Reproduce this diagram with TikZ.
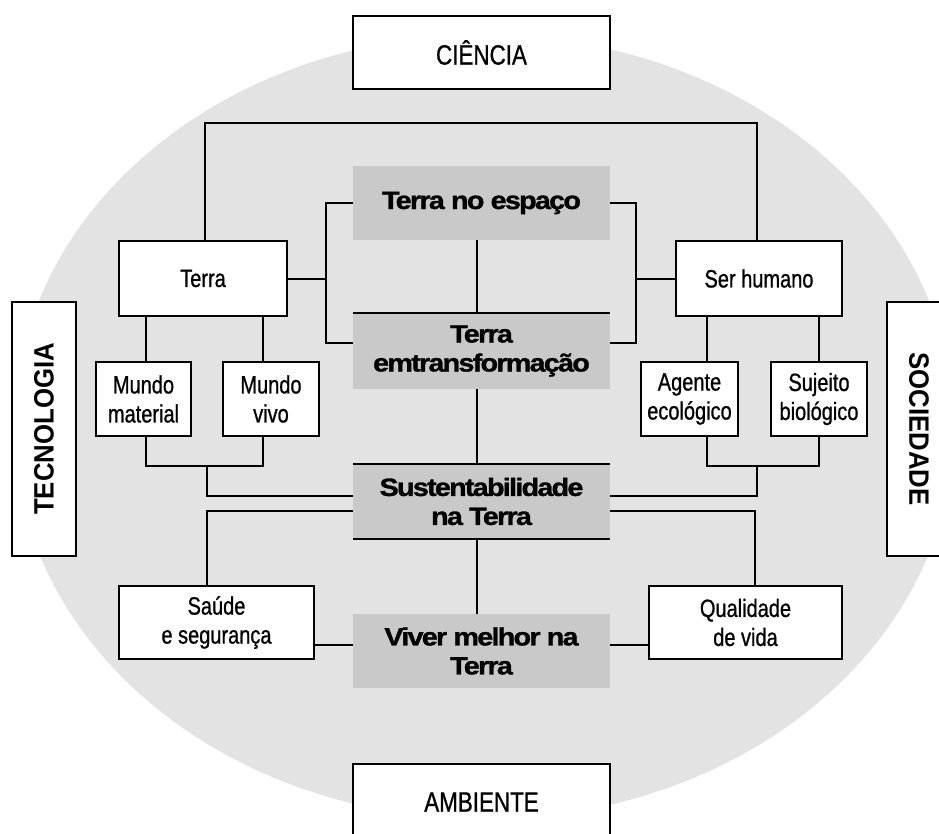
\documentclass[tikz,border=0pt]{standalone}
\usepackage{fontspec}
\setmainfont{Liberation Sans}
\newfontfamily\condfont{Liberation Sans}[FakeStretch=0.8,FakeBold=0.8]
\newfontfamily\boldcond{Liberation Sans}[FakeStretch=0.92]
\newfontfamily\tightbold{Liberation Sans}[FakeStretch=1.15,LetterSpace=-7,FakeBold=1.2]
\definecolor{ovalgray}{gray}{0.89}
\definecolor{boxgray}{gray}{0.79}

\begin{document}
\begin{tikzpicture}[x=1pt,y=-1pt,
  conn/.style={line width=2pt},
  rule/.style={line width=2.4pt},
  wbox/.style={draw, line width=2pt, fill=white, inner sep=0pt, align=center,
    font=\condfont\fontsize{25}{29}\selectfont},
  bigbox/.style={wbox, minimum width=257pt, font=\condfont\fontsize{28}{32}\selectfont},
  sidebox/.style={wbox, minimum width=254pt, minimum height=64pt,
    font=\boldcond\bfseries\fontsize{28}{32}\selectfont},
  gbox/.style={fill=boxgray, inner sep=0pt, align=center, minimum width=257pt,
    font=\tightbold\bfseries\fontsize{25}{29}\selectfont}
]
\useasboundingbox (0,0) rectangle (939,834);
\clip (0,0) rectangle (939,834);

% background oval
\fill[ovalgray] (484,427) ellipse [x radius=470pt, y radius=392pt];

% outer labels
\node[bigbox, minimum height=73pt] (cien) at (481.5,52.5) {CIÊNCIA};
\node[bigbox, minimum height=76pt] (amb) at (481.5,802) {AMBIENTE};
\node[sidebox, rotate=90] (tec) at (44,429) {TECNOLOGIA};
\node[sidebox, rotate=-90] (soc) at (919,429) {SOCIEDADE};

% central column
\node[gbox, minimum height=74pt] (esp) at (481.5,203) {Terra no espaço};
\node[gbox, minimum height=76pt] (transf) at (481.5,351) {Terra\\emtransformação};
\node[gbox, minimum height=75pt] (sust) at (481.5,501.5) {Sustentabilidade\\na Terra};
\node[gbox, minimum height=74pt] (viver) at (481.5,651) {Viver melhor na\\Terra};

% side boxes
\node[wbox, minimum width=168pt, minimum height=75pt] (terra) at (203,278.5) {Terra};
\node[wbox, minimum width=166pt, minimum height=75pt] (ser) at (759,278.5) {Ser humano};
\node[wbox, minimum width=95pt, minimum height=74pt] (mmat) at (143.5,399) {Mundo\\material};
\node[wbox, minimum width=96pt, minimum height=74pt] (mviv) at (271,399) {Mundo\\vivo};
\node[wbox, minimum width=97pt, minimum height=74pt] (agen) at (689.5,399) {Agente\\ecológico};
\node[wbox, minimum width=96pt, minimum height=74pt] (suj) at (819,399) {Sujeito\\biológico};
\node[wbox, minimum width=195pt, minimum height=73pt] (saude) at (216.5,622.5) {Saúde\\e segurança};
\node[wbox, minimum width=193pt, minimum height=73pt] (qual) at (745.5,622.5) {Qualidade\\de vida};

% rails of the connectors
\coordinate (xC) at (477,0);
\coordinate (xT) at (205,0);
\coordinate (xS) at (757,0);
\coordinate (xL1) at (146,0);
\coordinate (xL2) at (263,0);
\coordinate (xLm) at (207,0);
\coordinate (xR1) at (707,0);
\coordinate (xR2) at (819,0);
\coordinate (xRm) at (757,0);
\coordinate (xQ) at (755,0);
\coordinate (xLb) at (326,0);
\coordinate (xRb) at (636,0);
\coordinate (yTop) at (0,123);
\coordinate (yBr) at (0,343);
\coordinate (yJ) at (0,466);
\coordinate (yS1) at (0,496);
\coordinate (yS2) at (0,511);
\coordinate (yV) at (0,645);

% central spine
\draw[conn] (esp.south -| xC) -- (transf.north -| xC);
\draw[conn] (transf.south -| xC) -- (sust.north -| xC);
\draw[conn] (sust.south -| xC) -- (viver.north -| xC);

% top link between Terra and Ser humano
\draw[conn] (terra.north -| xT) -- (xT |- yTop) -- (xS |- yTop) -- (ser.north -| xS);

% brackets to the first two central boxes
\draw[conn] (esp.west) -| (xLb |- yBr) -- (transf.west |- yBr);
\draw[conn] (terra.east) -- (xLb |- terra.east);
\draw[conn] (esp.east) -| (xRb |- yBr) -- (transf.east |- yBr);
\draw[conn] (ser.west) -- (xRb |- ser.west);

% left branch
\draw[conn] (terra.south -| xL1) -- (mmat.north -| xL1);
\draw[conn] (terra.south -| xL2) -- (mviv.north -| xL2);
\draw[conn] (mmat.south -| xL1) -- (xL1 |- yJ) -- (xL2 |- yJ) -- (mviv.south -| xL2);
\draw[conn] (xLm |- yJ) -- (xLm |- yS1) -- (sust.west |- yS1);
\draw[conn] (sust.west |- yS2) -- (xLm |- yS2) -- (saude.north -| xLm);
\draw[conn] (saude.east |- yV) -- (viver.west |- yV);

% right branch
\draw[conn] (ser.south -| xR1) -- (agen.north -| xR1);
\draw[conn] (ser.south -| xR2) -- (suj.north -| xR2);
\draw[conn] (agen.south -| xR1) -- (xR1 |- yJ) -- (xR2 |- yJ) -- (suj.south -| xR2);
\draw[conn] (xRm |- yJ) -- (xRm |- yS1) -- (sust.east |- yS1);
\draw[conn] (sust.east |- yS2) -- (xQ |- yS2) -- (qual.north -| xQ);
\draw[conn] (viver.east |- yV) -- (qual.west |- yV);

% rules on the grey boxes
\draw[rule] (transf.north west) -- (transf.north east);
\draw[rule] (sust.north west) -- (sust.north east);
\draw[rule] (sust.south west) -- (sust.south east);
\end{tikzpicture}
\end{document}
